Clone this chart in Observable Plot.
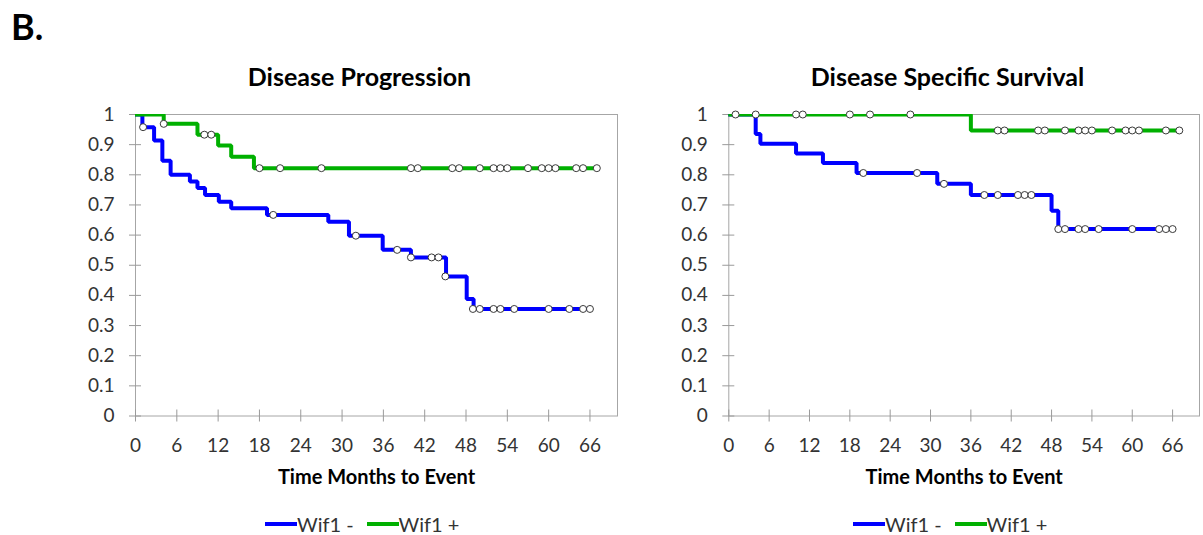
<!DOCTYPE html>
<html>
<head>
<meta charset="utf-8">
<script src="https://cdn.jsdelivr.net/npm/d3@7"></script>
<script src="https://cdn.jsdelivr.net/npm/@observablehq/plot@0.6"></script>
<style>
  html, body { margin: 0; padding: 0; background: #fff; }
  body { width: 1203px; height: 535px; position: relative; overflow: hidden; font-family: Lato, "Open Sans", sans-serif; color: #000; }
  .abs { position: absolute; }
  .panel-label { left: 11px; top: 4px; font-size: 36px; font-weight: bold; line-height: 44px; }
  .title { top: 61px; font-size: 25px; font-weight: bold; line-height: 30px; white-space: nowrap; transform: translateX(-50%); }
  .legend { top: 510px; display: flex; align-items: center; font-size: 20px; line-height: 28px; color: #333; white-space: nowrap; }
  .legend .sw { display: inline-block; width: 32px; height: 4px; }
  .legend .item { display: flex; align-items: center; margin-right: 13px; }
  .chart { top: 90px; }
  .chart svg { overflow: visible; }
</style>
</head>
<body>
<script>
// ---------------- data ----------------
const xTicks = [0, 6, 12, 18, 24, 30, 36, 42, 48, 54, 60, 66];
const xTickLabels = ["0", "6", "12", "18", "24", "30", "36", "42", "48", "54", "60", "66"];
const yTicks = [0, 0.1, 0.2, 0.3, 0.4, 0.5, 0.6, 0.7, 0.8, 0.9, 1];
const yTickLabels = ["0", "0.1", "0.2", "0.3", "0.4", "0.5", "0.6", "0.7", "0.8", "0.9", "1"];
const seriesNames = ["Wif1 -", "Wif1 +"];
const seriesColors = ["#0000ff", "#00b000"];
const chartTitles = ["Disease Progression", "Disease Specific Survival"];
const xAxisTitle = "Time Months to Event";

// Disease Progression — Wif1 - (step curve)
const dpMinusTime = [0, 1, 2.7, 3.9, 5.1, 7.9, 9, 10.1, 12.1, 13.9, 19.1, 28, 31, 35.9, 40, 45.1, 48.1, 49.1, 66];
const dpMinusSurv = [1, 0.958, 0.914, 0.847, 0.80, 0.778, 0.756, 0.733, 0.711, 0.689, 0.667, 0.644, 0.598, 0.551, 0.526, 0.463, 0.388, 0.355, 0.355];
// Disease Progression — Wif1 - censored
const dpMinusCensTime = [1.1, 20, 32, 38, 40, 43, 44, 45, 49, 50, 52, 53, 55, 60, 63, 65, 66];
const dpMinusCensSurv = [0.958, 0.667, 0.598, 0.551, 0.526, 0.526, 0.526, 0.463, 0.355, 0.355, 0.355, 0.355, 0.355, 0.355, 0.355, 0.355, 0.355];
// Disease Progression — Wif1 + (step curve)
const dpPlusTime = [0, 4.1, 9, 12, 13.9, 17.2, 67];
const dpPlusSurv = [1, 0.969, 0.933, 0.897, 0.86, 0.822, 0.822];
// Disease Progression — Wif1 + censored
const dpPlusCensTime = [4.1, 10, 11, 18, 21, 27, 40, 41, 46, 47, 50, 52, 53, 54, 57, 59, 60, 61, 64, 65, 67];
const dpPlusCensSurv = [0.969, 0.933, 0.933, 0.822, 0.822, 0.822, 0.822, 0.822, 0.822, 0.822, 0.822, 0.822, 0.822, 0.822, 0.822, 0.822, 0.822, 0.822, 0.822, 0.822, 0.822];

// Disease Specific Survival — Wif1 - (step curve)
const dssMinusTime = [0, 4, 4.7, 10, 14, 19, 31, 36, 48, 49, 66];
const dssMinusSurv = [1, 0.935, 0.903, 0.871, 0.839, 0.806, 0.77, 0.733, 0.681, 0.62, 0.62];
// Disease Specific Survival — Wif1 - censored
const dssMinusCensTime = [1, 20, 28, 32, 38, 40, 43, 44, 45, 49, 50, 52, 53, 55, 60, 64, 65, 66];
const dssMinusCensSurv = [1, 0.806, 0.806, 0.77, 0.733, 0.733, 0.733, 0.733, 0.733, 0.62, 0.62, 0.62, 0.62, 0.62, 0.62, 0.62, 0.62, 0.62];
// Disease Specific Survival — Wif1 + (step curve)
const dssPlusTime = [0, 36, 67];
const dssPlusSurv = [1, 0.947, 0.947];
// Disease Specific Survival — Wif1 + censored
const dssPlusCensTime = [4, 10, 11, 18, 21, 27, 40, 41, 46, 47, 50, 52, 53, 54, 57, 59, 60, 61, 65, 67];
const dssPlusCensSurv = [1, 1, 1, 1, 1, 1, 0.947, 0.947, 0.947, 0.947, 0.947, 0.947, 0.947, 0.947, 0.947, 0.947, 0.947, 0.947, 0.947, 0.947];

// ---------------- drawing ----------------
const zip = (ts, ss) => ts.map((t, i) => ({t, s: ss[i]}));
const xLabelMap = new Map(xTicks.map((d, i) => [d, xTickLabels[i]]));
const yLabelMap = new Map(yTicks.map((d, i) => [d, yTickLabels[i]]));
const AXIS_GRAY = "#9a9a9a";

function kmChart({minus, plus, minusCens, plusCens, width, marginLeft, marginRight}) {
  return Plot.plot({
    width,
    height: 420,
    marginTop: 24,
    marginBottom: 94.5,
    marginLeft,
    marginRight,
    style: {fontFamily: "Lato, 'Open Sans', sans-serif", fontSize: "19px", color: "#333", background: "transparent"},
    x: {domain: [0, 70], label: null},
    y: {domain: [0, 1], label: null},
    marks: [
      Plot.frame({stroke: "#a6a6a6"}),
      Plot.axisY({ticks: yTicks, tickSize: 12, dx: 6, tickFormat: () => "", stroke: AXIS_GRAY, label: null}),
      Plot.axisY({ticks: yTicks, tickSize: 0, tickPadding: 21, tickFormat: d => yLabelMap.get(d), fill: "#333", fontSize: 19, label: null}),
      Plot.axisX({ticks: xTicks, tickSize: 12, dy: -6, tickFormat: () => "", stroke: AXIS_GRAY, label: null}),
      Plot.axisX({ticks: xTicks, tickSize: 0, tickPadding: 22, tickFormat: d => xLabelMap.get(d), fill: "#333", fontSize: 19, label: null}),
      Plot.line(minus, {x: "t", y: "s", curve: "step-after", stroke: seriesColors[0], strokeWidth: 4, strokeLinejoin: "miter", clip: true}),
      Plot.line(plus, {x: "t", y: "s", curve: "step-after", stroke: seriesColors[1], strokeWidth: 4, strokeLinejoin: "miter", clip: true}),
      Plot.dot(minusCens, {x: "t", y: "s", r: 3.5, fill: "white", stroke: "#3a3a3a", strokeWidth: 1}),
      Plot.dot(plusCens, {x: "t", y: "s", r: 3.5, fill: "white", stroke: "#3a3a3a", strokeWidth: 1}),
      Plot.text([xAxisTitle], {frameAnchor: "bottom", dy: 68, fontWeight: "bold", fontSize: 20, fill: "#000"})
    ]
  });
}

function addDiv(cls, html, style) {
  const d = document.createElement("div");
  d.className = "abs " + cls;
  d.innerHTML = html;
  Object.assign(d.style, style || {});
  document.body.appendChild(d);
  return d;
}

addDiv("panel-label", "B.");
addDiv("title", chartTitles[0], {left: "359.5px"});
addDiv("title", chartTitles[1], {left: "947.5px"});

const left = kmChart({
  minus: zip(dpMinusTime, dpMinusSurv),
  plus: zip(dpPlusTime, dpPlusSurv),
  minusCens: zip(dpMinusCensTime, dpMinusCensSurv),
  plusCens: zip(dpPlusCensTime, dpPlusCensSurv),
  width: 620, marginLeft: 135, marginRight: 3
});
const right = kmChart({
  minus: zip(dssMinusTime, dssMinusSurv),
  plus: zip(dssPlusTime, dssPlusSurv),
  minusCens: zip(dssMinusCensTime, dssMinusCensSurv),
  plusCens: zip(dssPlusCensTime, dssPlusCensSurv),
  width: 583, marginLeft: 108.3, marginRight: 4
});
addDiv("chart", "", {left: "0px"}).appendChild(left);
addDiv("chart", "", {left: "620px"}).appendChild(right);

function legendHTML() {
  return seriesNames.map((n, i) =>
    `<span class="item"><span class="sw" style="background:${seriesColors[i]}"></span><span>${n}</span></span>`
  ).join("");
}
addDiv("legend", legendHTML(), {left: "265px"});
addDiv("legend", legendHTML(), {left: "853px"});
</script>
</body>
</html>
